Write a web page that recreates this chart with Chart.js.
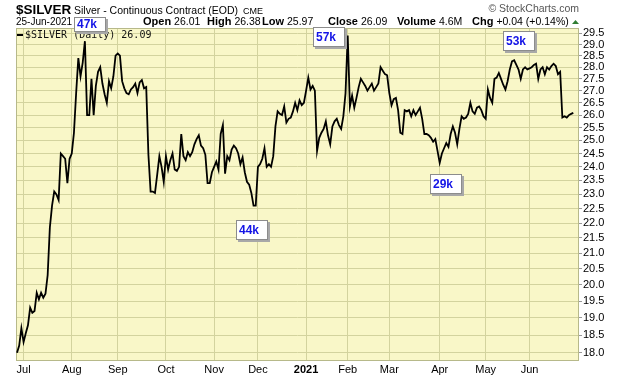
<!DOCTYPE html>
<html>
<head>
<meta charset="utf-8">
<script src="https://cdn.jsdelivr.net/npm/chart.js@4.4.0/dist/chart.umd.min.js"></script>
<style>
  html, body { margin: 0; padding: 0; background: #fff; }
  #wrap { position: relative; width: 620px; height: 376px; }
</style>
</head>
<body>
<div id="wrap"><canvas id="silver" width="620" height="376"></canvas></div>
<script>
// daily closes, 26-Jun-2020 .. 25-Jun-2021
const closes = [
  18.0, 18.2, 18.7,
  18.3, 18.55, 18.78, 19.3, 19.15, 19.2, 19.75, 19.55, 19.75, 19.6, 19.72, 20.3, 21.85, 22.6, 23.1, 23.0, 22.8, 24.5, 24.4, 24.3, 23.4, 24.3,
  24.5, 25.3, 26.9, 28.4, 27.6, 28.2, 29.15, 26.0, 26.0, 27.5, 26.0, 27.2, 27.8, 28.0, 27.3, 26.85, 26.5, 27.4, 27.1, 27.6, 28.5,
  28.6, 28.5, 27.4, 27.1, 26.9, 26.85, 27.05, 27.15, 27.3, 26.9, 27.35, 27.45, 27.1, 27.15, 24.45, 23.1, 23.1, 23.05, 23.7, 24.4, 24.0, 23.45,
  24.4, 23.9, 24.25, 24.5, 23.9, 23.85, 24.0, 25.25, 24.4, 24.25, 24.55, 24.4, 24.55, 24.85, 25.05, 25.2, 24.8, 24.7, 24.45, 23.4, 23.4, 23.8,
  24.0, 24.2, 23.9, 25.25, 25.6, 23.75, 24.4, 24.25, 24.65, 24.8, 24.7, 24.5, 24.1, 24.35, 23.8, 23.45, 23.35, 23.05, 22.6, 22.6,
  24.0, 24.1, 24.3, 24.7, 24.0, 24.1, 24.0, 24.4, 25.55, 26.15, 26.05, 26.0, 26.35, 25.7, 25.85, 25.9, 26.15, 26.5, 26.2, 26.6, 26.4, 26.5,
  27.0, 27.55, 27.05, 27.2, 27.0, 24.6, 25.1, 25.3, 25.45, 25.75, 25.2, 24.85, 25.55, 25.75, 25.85, 25.6, 25.45, 25.95, 26.9,
  29.4, 26.35, 26.8, 26.3, 26.7, 27.15, 27.5, 27.35, 27.2, 27.0, 27.15, 27.3, 27.0, 27.15, 27.3, 28.0, 27.85, 27.7, 27.65,
  26.9, 26.4, 26.65, 26.7, 26.2, 25.3, 25.25, 26.2, 26.15, 26.2, 25.95, 26.2, 26.0, 26.15, 26.3, 25.85, 25.25, 25.25, 25.2, 25.1, 24.95, 25.05, 24.6,
  24.15, 24.5, 24.7, 24.9, 24.75, 25.25, 25.55, 25.3, 24.85, 25.45, 25.95, 25.85, 25.9, 26.05, 26.5, 26.15, 26.05, 26.3, 26.35, 26.2, 25.95,
  25.85, 27.05, 26.7, 26.5, 27.5, 27.55, 27.75, 27.5, 27.25, 27.05, 27.4, 27.9, 28.25, 28.3, 28.1, 27.9, 27.5, 27.9, 28.0, 27.9,
  27.95, 28.0, 28.1, 28.15, 27.5, 27.9, 28.0, 27.7, 28.0, 27.9, 28.05, 28.15, 28.05, 27.7, 27.8, 25.9, 25.95, 25.9, 26.0, 26.05, 26.09
];

// trading-day index of each month's first session
const monthStarts = [3, 25, 46, 68, 90, 110, 132, 151, 170, 193, 214, 234];
const monthNames = ['Jul', 'Aug', 'Sep', 'Oct', 'Nov', 'Dec', '2021', 'Feb', 'Mar', 'Apr', 'May', 'Jun'];

const priceTicks = [18.0, 18.5, 19.0, 19.5, 20.0, 20.5, 21.0, 21.5, 22.0, 22.5, 23.0, 23.5,
  24.0, 24.5, 25.0, 25.5, 26.0, 26.5, 27.0, 27.5, 28.0, 28.5, 29.0, 29.5];

// volume call-outs: label, day index, price level
const volLabels = ['47k', '57k', '44k', '29k', '53k'];
const volDay = [33.1, 142.0, 107.1, 195.7, 229.0];
const volPrice = [30.05, 29.36, 21.77, 23.39, 29.16];

const quoteParts = [
  ['Open', '26.01'], ['High', '26.38'], ['Low', '25.97'],
  ['Close', '26.09'], ['Volume', '4.6M'], ['Chg', '+0.04 (+0.14%)']
];

const SANS = '"Liberation Sans", Arial, sans-serif';
const plotBg = '#f9f7c8';
const gridCol = '#d3d39e';
const frameCol = '#b7b98a';

const framePlugin = {
  id: 'frame',
  beforeDraw(chart) {
    const { ctx, chartArea: a } = chart;
    ctx.save();
    ctx.fillStyle = plotBg;
    ctx.fillRect(a.left, a.top, a.right - a.left, a.bottom - a.top);
    ctx.restore();
  },
  beforeDatasetsDraw(chart) {
    const { ctx, chartArea: a } = chart;
    ctx.save();
    ctx.strokeStyle = frameCol;
    ctx.lineWidth = 1;
    ctx.strokeRect(a.left + 0.5, a.top + 0.5, a.right - a.left - 1, a.bottom - a.top);
    ctx.restore();
  }
};

const headerPlugin = {
  id: 'header',
  afterDraw(chart) {
    const ctx = chart.ctx;
    ctx.save();
    ctx.textBaseline = 'alphabetic';
    ctx.fillStyle = '#000';

    ctx.font = 'bold 13.5px ' + SANS;
    ctx.fillText('$SILVER', 16, 14);
    ctx.font = '10.5px ' + SANS;
    ctx.fillText('Silver - Continuous Contract (EOD)', 74, 14);
    ctx.font = '9px ' + SANS;
    ctx.fillText('CME', 243, 14);

    ctx.font = '10px ' + SANS;
    ctx.fillText('25-Jun-2021', 16, 25);

    // quote line
    const xs = [143, 207, 262, 328, 397, 472];
    quoteParts.forEach((p, i) => {
      ctx.font = 'bold 11px ' + SANS;
      ctx.fillText(p[0], xs[i], 25);
      const w = ctx.measureText(p[0]).width;
      ctx.font = '10.5px ' + SANS;
      ctx.fillText(p[1], xs[i] + w + 3, 25);
    });

    // up arrow
    ctx.fillStyle = '#2f7d32';
    ctx.beginPath();
    ctx.moveTo(572, 24);
    ctx.lineTo(579, 24);
    ctx.lineTo(575.5, 20);
    ctx.closePath();
    ctx.fill();

    ctx.fillStyle = '#555';
    ctx.font = '10.5px ' + SANS;
    ctx.textAlign = 'right';
    ctx.fillText('\u00a9 StockCharts.com', 579, 12);

    // legend
    ctx.textAlign = 'left';
    ctx.strokeStyle = '#000';
    ctx.lineWidth = 2;
    ctx.beginPath();
    ctx.moveTo(17, 35);
    ctx.lineTo(23, 35);
    ctx.stroke();
    ctx.fillStyle = '#111';
    ctx.font = '10px "DejaVu Sans Mono", monospace';
    ctx.textBaseline = 'middle';
    ctx.fillText('$SILVER (Daily) 26.09', 25, 35);

    // volume boxes (with drop shadow)
    const xs2 = chart.scales.x, ys = chart.scales.y;
    volLabels.forEach((lab, i) => {
      const cx = xs2.getPixelForValue(volDay[i]);
      const cy = ys.getPixelForValue(volPrice[i]);
      const w = 31;
      let top = Math.round(cy - 9.5);
      const bottom = top + 19;
      top = Math.max(top, 17);
      const h = bottom - top;
      const left = Math.round(cx - w / 2);
      ctx.fillStyle = '#a8a8a8';
      ctx.fillRect(left + 2, top + 2, w + 1, h + 1);
      ctx.fillStyle = '#fff';
      ctx.fillRect(left, top, w, h);
      ctx.strokeStyle = '#8c8c8c';
      ctx.lineWidth = 1;
      ctx.strokeRect(left + 0.5, top + 0.5, w, h);
      ctx.fillStyle = '#1414e6';
      ctx.font = 'bold 12px ' + SANS;
      ctx.textBaseline = 'middle';
      ctx.fillText(lab, left + 3, top + h / 2 + 1);
    });
    ctx.restore();
  }
};

new Chart(document.getElementById('silver').getContext('2d'), {
  type: 'line',
  data: {
    datasets: [{
      label: '$SILVER (Daily)',
      data: closes.map((c, i) => ({ x: i, y: c })),
      borderColor: '#000',
      borderWidth: 1.8,
      pointRadius: 0,
      tension: 0
    }]
  },
  options: {
    responsive: false,
    animation: false,
    devicePixelRatio: 1,
    layout: { padding: { left: 16, top: 28, right: 0, bottom: 0 } },
    plugins: {
      legend: { display: false },
      tooltip: { enabled: false }
    },
    scales: {
      x: {
        type: 'linear',
        min: -0.46,
        max: 256.6,
        afterBuildTicks: s => { s.ticks = monthStarts.map(v => ({ value: v })); },
        afterFit: s => { s.height = 16; },
        grid: { color: gridCol, drawTicks: false },
        border: { display: false },
        ticks: {
          autoSkip: false,
          maxRotation: 0,
          padding: 3,
          color: '#000',
          callback: v => monthNames[monthStarts.indexOf(v)],
          font: ctx => ({
            family: SANS,
            size: 11,
            weight: monthNames[ctx.index] === '2021' ? 'bold' : 'normal'
          })
        }
      },
      y: {
        type: 'logarithmic',
        position: 'right',
        min: 17.8,
        max: 29.75,
        afterBuildTicks: s => { s.ticks = priceTicks.map(v => ({ value: v })); },
        afterFit: s => { s.width = 41; },
        grid: { color: gridCol, tickColor: '#999', tickLength: 3 },
        border: { display: false },
        ticks: {
          autoSkip: false,
          padding: 1,
          color: '#000',
          font: { family: SANS, size: 11 },
          callback: v => Number(v).toFixed(1)
        }
      }
    }
  },
  plugins: [framePlugin, headerPlugin]
});
</script>
</body>
</html>
